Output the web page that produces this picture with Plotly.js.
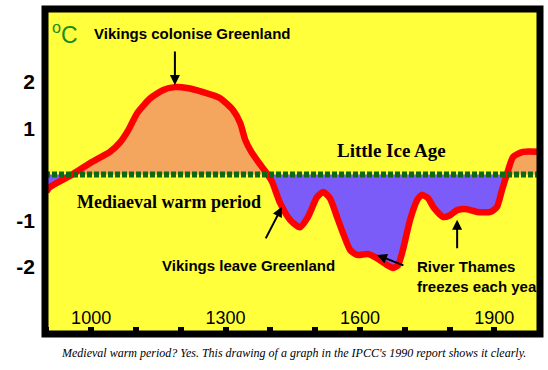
<!DOCTYPE html>
<html>
<head>
<meta charset="utf-8">
<script src="https://cdn.plot.ly/plotly-3.0.1.min.js"></script>
<style>html,body{margin:0;padding:0;background:#fff;}#chart{width:548px;height:370px;}</style>
</head>
<body>
<div id="chart"></div>
<script>
// Temperature anomaly (°C)
const years = [900, 908, 958, 998, 1042, 1065, 1083, 1103, 1132, 1161, 1187, 1214, 1250, 1288, 1317, 1333, 1344, 1357, 1380, 1394, 1404, 1422, 1444, 1466, 1484, 1504, 1518, 1533, 1549, 1562, 1578, 1594, 1618, 1638, 1661, 1674, 1685, 1696, 1712, 1728, 1738, 1752, 1765, 1786, 1801, 1817, 1839, 1862, 1891, 1906, 1917, 1928, 1942, 1964, 2000];
const temps = [-0.37, -0.27, 0, 0.25, 0.49, 0.70, 0.96, 1.33, 1.65, 1.83, 1.89, 1.87, 1.78, 1.65, 1.39, 1.11, 0.75, 0.50, 0.18, 0, -0.16, -0.62, -0.98, -1.14, -0.92, -0.49, -0.38, -0.51, -0.92, -1.26, -1.63, -1.74, -1.72, -1.81, -1.96, -2.02, -1.96, -1.63, -0.98, -0.55, -0.44, -0.51, -0.72, -0.92, -0.88, -0.77, -0.75, -0.81, -0.81, -0.70, -0.34, 0, 0.38, 0.49, 0.49];

const xTickVals = [1000, 1300, 1600, 1900];
const xTickText = ['1000', '1300', '1600', '1900'];
const yTickVals = [-2, -1, 1, 2];
const yTickText = ['-2', '-1', '1', '2'];

const warm = temps.map(v => Math.max(v, 0));
const cold = temps.map(v => Math.min(v, 0));

const SANS = '"Liberation Sans", Arial, sans-serif';
const SERIF = '"Liberation Serif", "Times New Roman", serif';

const traces = [
  {x: years, y: warm, type: 'scatter', mode: 'lines', fill: 'tozeroy', fillcolor: '#F4A55E', line: {width: 0}, hoverinfo: 'skip'},
  {x: years, y: cold, type: 'scatter', mode: 'lines', fill: 'tozeroy', fillcolor: '#7B5CF8', line: {width: 0}, hoverinfo: 'skip'},
  {x: years, y: temps, type: 'scatter', mode: 'lines', line: {color: '#FF0000', width: 6.5, shape: 'spline', smoothing: 0.6}, hoverinfo: 'skip'}
];

const arrow = {showarrow: true, arrowhead: 2, arrowsize: 1, arrowwidth: 2, arrowcolor: '#000', text: ''};

const layout = {
  width: 548, height: 370,
  margin: {l: 45, r: 8, t: 9, b: 36},
  paper_bgcolor: '#FFFFFF',
  plot_bgcolor: '#FFFF3C',
  showlegend: false,
  xaxis: {
    range: [897, 2002], showgrid: false, zeroline: false, showline: false,
    tickvals: xTickVals, ticktext: xTickText,
    ticks: 'inside', ticklen: 7, tickwidth: 6, tickcolor: '#000',
    ticklabelposition: 'inside',
    tickfont: {family: SANS, size: 18, color: '#000'},
    minor: {tick0: 1000, dtick: 100, ticks: 'inside', ticklen: 7, tickwidth: 6, tickcolor: '#000', showgrid: false}
  },
  yaxis: {
    range: [-3.45, 3.58], showgrid: false, zeroline: false, showline: false,
    tickvals: yTickVals, ticktext: yTickText, ticks: '',
    ticklabelstandoff: 9,
    tickfont: {family: SANS, size: 21, color: '#000', weight: 'bold'}
  },
  shapes: [
    {type: 'line', xref: 'paper', x0: 0, x1: 1, yref: 'y', y0: 0, y1: 0,
     line: {color: '#0E6A12', width: 6, dash: '5px,2px'}},
    {type: 'rect', xref: 'paper', yref: 'paper', x0: 0, x1: 1, y0: 0, y1: 1,
     line: {color: '#000', width: 7}}
  ],
  annotations: [
    {x: 908, y: 3.06, xanchor: 'left', yanchor: 'middle', showarrow: false,
     text: '<sup>o</sup>C', font: {family: SANS, size: 23, color: '#12901A'}},
    {x: 1002, y: 3.06, xanchor: 'left', yanchor: 'middle', showarrow: false,
     text: 'Vikings colonise Greenland', font: {family: SANS, size: 15, color: '#000', weight: 'bold'}},
    {x: 1545, y: 0.53, xanchor: 'left', yanchor: 'middle', showarrow: false,
     text: 'Little Ice Age', font: {family: SERIF, size: 19, color: '#000', weight: 'bold'}},
    {x: 964, y: -0.59, xanchor: 'left', yanchor: 'middle', showarrow: false,
     text: 'Mediaeval warm period', font: {family: SERIF, size: 18, color: '#000', weight: 'bold'}},
    {x: 1154, y: -1.96, xanchor: 'left', yanchor: 'middle', showarrow: false,
     text: 'Vikings leave Greenland', font: {family: SANS, size: 15, color: '#000', weight: 'bold'}},
    {x: 1723, y: -2.0, xanchor: 'left', yanchor: 'middle', showarrow: false,
     text: 'River Thames', font: {family: SANS, size: 15, color: '#000', weight: 'bold'}},
    {x: 1723, y: -2.43, xanchor: 'left', yanchor: 'middle', showarrow: false,
     text: 'freezes each year', font: {family: SANS, size: 15, color: '#000', weight: 'bold'}},
    Object.assign({x: 1187, y: 1.935, ax: 0, ay: -35}, arrow),
    Object.assign({x: 1426, y: -0.70, ax: -17, ay: 33}, arrow),
    Object.assign({x: 1638, y: -1.74, ax: 28, ay: 11}, arrow),
    Object.assign({x: 1817, y: -0.98, ax: 0, ay: 30}, arrow),
    {xref: 'paper', yref: 'paper', x: 0.502, y: -0.058, xanchor: 'center', yanchor: 'middle', showarrow: false,
     text: "<i>Medieval warm period? Yes. This drawing of a graph in the IPCC's 1990 report shows it clearly.</i>",
     font: {family: SERIF, size: 12, color: '#000'}}
  ]
};

Plotly.newPlot('chart', traces, layout, {displayModeBar: false, staticPlot: true});
</script>
</body>
</html>
